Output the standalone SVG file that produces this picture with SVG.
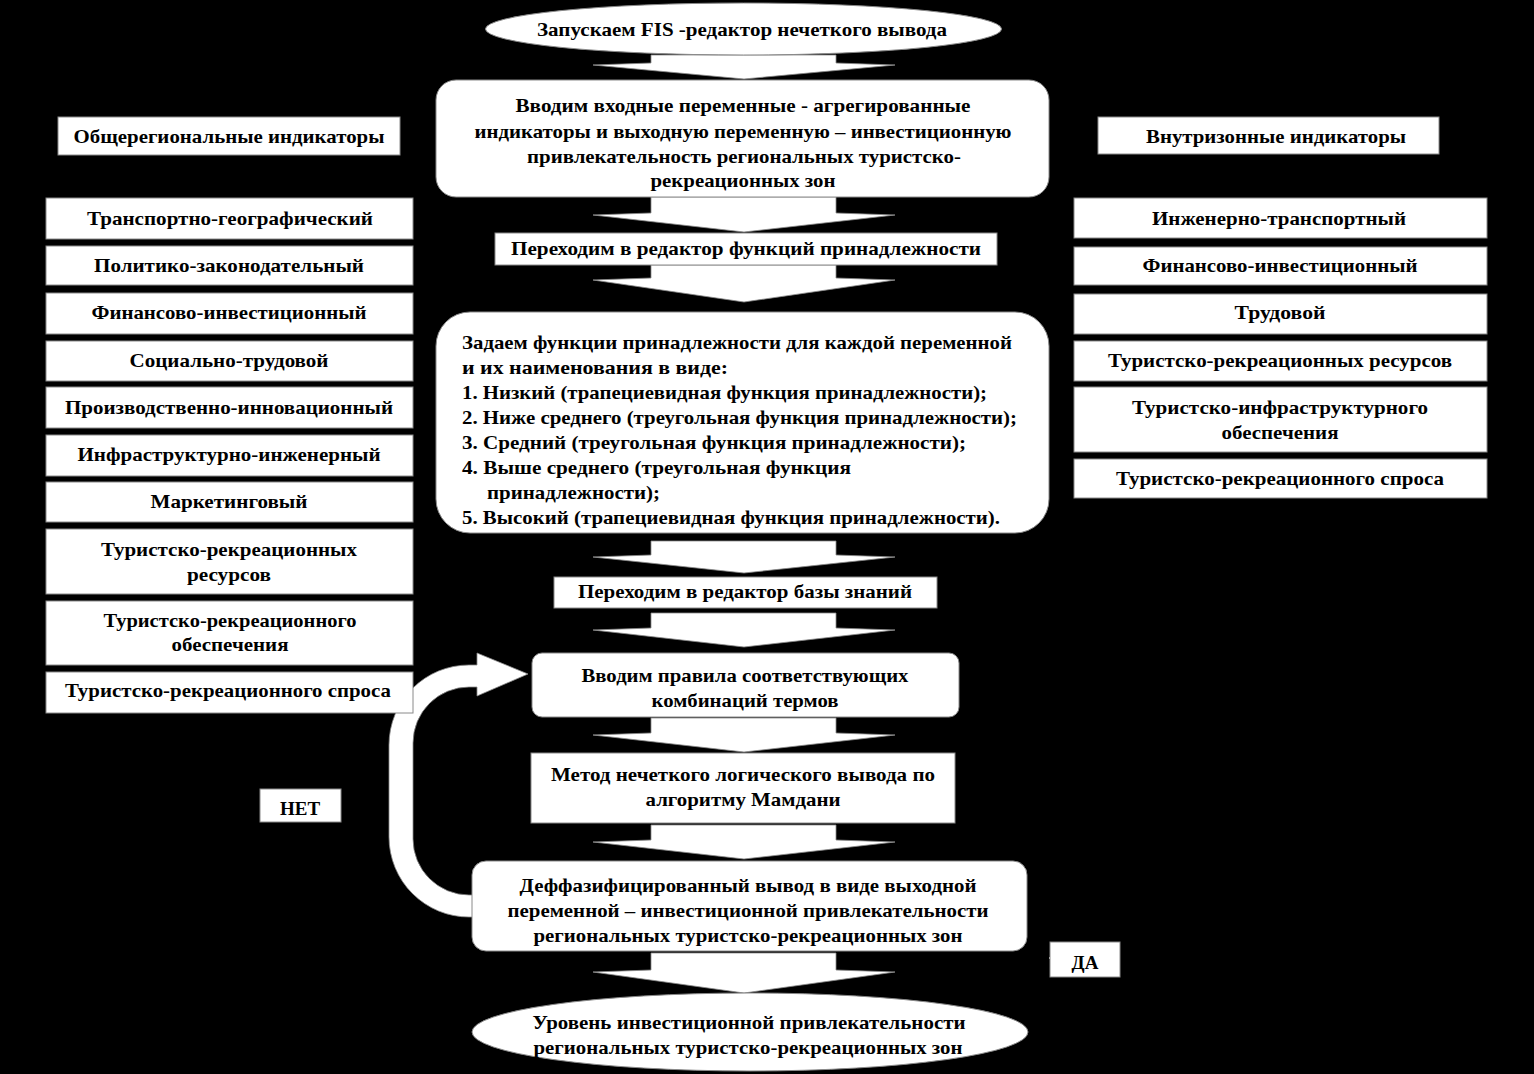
<svg xmlns="http://www.w3.org/2000/svg" width="1534" height="1074" viewBox="0 0 1534 1074">
<style>
.bg{fill:#000}
.box{fill:#fff;stroke:#8a8a8a;stroke-width:1}
.arr{fill:#fff;stroke:#8a8a8a;stroke-width:0.8}
text{font-family:"Liberation Serif","Times New Roman",serif;font-weight:bold;font-size:19px;fill:#000}
.c{text-anchor:middle}
</style>
<rect class="bg" x="0" y="0" width="1534" height="1074"/>

<g id="connectors">
<path class="arr" d="M651 55 H836 V63 L895 65 L744 79 L593 65 L651 63 Z"/>
<path class="arr" d="M651 197 H836 V213 L895 215 L744 232 L593 215 L651 213 Z"/>
<path class="arr" d="M651 265 H836 V278 L895 280 L744 302 L593 280 L651 278 Z"/>
<path class="arr" d="M651 541 H836 V555 L895 557 L744 573 L593 557 L651 555 Z"/>
<path class="arr" d="M651 613 H836 V628 L895 630 L744 647 L593 630 L651 628 Z"/>
<path class="arr" d="M651 718 H836 V733 L895 735 L744 752 L593 735 L651 733 Z"/>
<path class="arr" d="M651 825 H836 V840 L895 842 L744 859 L593 842 L651 840 Z"/>
<path class="arr" d="M651 953 H836 V970 L895 972 L744 993 L593 972 L651 970 Z"/>
<path class="arr" d="M480 917 H469 A80 80 0 0 1 389 837 V745 A80 80 0 0 1 469 665 H477 V653 L528 674 L477 696 V687 H469 A56 56 0 0 0 413 743 V839 A56 56 0 0 0 469 895 H480 Z"/>
<line x1="1049" y1="958" x2="1053" y2="958" stroke="#fff" stroke-width="1.5"/>
</g>

<g id="n-start">
<ellipse class="box" cx="743.5" cy="29" rx="258" ry="26"/>
<text class="c" x="742" y="36" textLength="410" lengthAdjust="spacingAndGlyphs">Запускаем FIS -редактор нечеткого вывода</text>
</g>

<g id="n-input">
<rect class="box" x="436" y="80" width="613" height="117" rx="20"/>
<text class="c" x="743" y="112" textLength="455" lengthAdjust="spacingAndGlyphs">Вводим входные  переменные - агрегированные</text>
<text class="c" x="743" y="138" textLength="537" lengthAdjust="spacingAndGlyphs">индикаторы и выходную переменную – инвестиционную</text>
<text class="c" x="744" y="163" textLength="434" lengthAdjust="spacingAndGlyphs">привлекательность региональных туристско-</text>
<text class="c" x="743" y="187" textLength="185" lengthAdjust="spacingAndGlyphs">рекреационных зон</text>
</g>

<g id="n-mf-editor">
<rect class="box" x="495" y="233" width="502" height="32"/>
<text class="c" x="746" y="255" textLength="470" lengthAdjust="spacingAndGlyphs">Переходим в  редактор функций принадлежности</text>
</g>

<g id="n-mf">
<rect class="box" x="436" y="312" width="613" height="221" rx="34"/>
<text x="462" y="349" textLength="550" lengthAdjust="spacingAndGlyphs">Задаем функции принадлежности для каждой переменной</text>
<text x="462" y="374" textLength="266" lengthAdjust="spacingAndGlyphs">и их наименования в виде:</text>
<text x="462" y="399" textLength="525" lengthAdjust="spacingAndGlyphs">1. Низкий (трапециевидная функция принадлежности);</text>
<text x="462" y="424" textLength="555" lengthAdjust="spacingAndGlyphs">2. Ниже среднего (треугольная функция принадлежности);</text>
<text x="462" y="449" textLength="504" lengthAdjust="spacingAndGlyphs">3. Средний  (треугольная функция принадлежности);</text>
<text x="462" y="474" textLength="389" lengthAdjust="spacingAndGlyphs">4. Выше среднего  (треугольная функция</text>
<text x="487" y="499" textLength="173" lengthAdjust="spacingAndGlyphs">принадлежности);</text>
<text x="462" y="524" textLength="538" lengthAdjust="spacingAndGlyphs">5. Высокий (трапециевидная функция принадлежности).</text>
</g>

<g id="n-kb-editor">
<rect class="box" x="554" y="577" width="383" height="31"/>
<text class="c" x="745" y="598" textLength="334" lengthAdjust="spacingAndGlyphs">Переходим в редактор базы знаний</text>
</g>

<g id="n-rules">
<rect class="box" x="532" y="653" width="427" height="64" rx="10"/>
<text class="c" x="745" y="682" textLength="327" lengthAdjust="spacingAndGlyphs">Вводим правила соответствующих</text>
<text class="c" x="745" y="707" textLength="187" lengthAdjust="spacingAndGlyphs">комбинаций термов</text>
</g>

<g id="n-mamdani">
<rect class="box" x="531" y="753" width="424" height="70"/>
<text class="c" x="743" y="781" textLength="384" lengthAdjust="spacingAndGlyphs">Метод нечеткого логического вывода по</text>
<text class="c" x="743" y="806" textLength="195" lengthAdjust="spacingAndGlyphs">алгоритму Мамдани</text>
</g>

<g id="n-defuzz">
<rect class="box" x="472" y="861" width="555" height="90" rx="14"/>
<text class="c" x="748" y="892" textLength="457" lengthAdjust="spacingAndGlyphs">Деффазифицированный вывод в виде выходной</text>
<text class="c" x="748" y="917" textLength="481" lengthAdjust="spacingAndGlyphs">переменной – инвестиционной привлекательности</text>
<text class="c" x="748" y="942" textLength="429" lengthAdjust="spacingAndGlyphs">региональных туристско-рекреационных зон</text>
</g>

<g id="n-result">
<ellipse class="box" cx="750" cy="1032" rx="278" ry="39"/>
<text class="c" x="749" y="1029" textLength="433" lengthAdjust="spacingAndGlyphs">Уровень инвестиционной привлекательности</text>
<text class="c" x="748" y="1054" textLength="429" lengthAdjust="spacingAndGlyphs">региональных туристско-рекреационных зон</text>
</g>

<g id="n-no">
<rect class="box" x="260" y="789" width="81" height="33"/>
<text class="c" x="300" y="815">НЕТ</text>
</g>

<g id="n-yes">
<rect class="box" x="1050" y="942" width="70" height="35"/>
<text class="c" x="1085" y="969">ДА</text>
</g>

<g id="n-left-title">
<rect class="box" x="58" y="117" width="342" height="38"/>
<text class="c" x="229" y="143" textLength="311" lengthAdjust="spacingAndGlyphs">Общерегиональные индикаторы</text>
</g>
<g id="n-l1">
<rect class="box" x="46" y="198" width="367" height="41"/>
<text class="c" x="230" y="225" textLength="286" lengthAdjust="spacingAndGlyphs">Транспортно-географический</text>
</g>
<g id="n-l2">
<rect class="box" x="46" y="246" width="367" height="39"/>
<text class="c" x="229" y="272" textLength="270" lengthAdjust="spacingAndGlyphs">Политико-законодательный</text>
</g>
<g id="n-l3">
<rect class="box" x="46" y="293" width="367" height="41"/>
<text class="c" x="229" y="319" textLength="275" lengthAdjust="spacingAndGlyphs">Финансово-инвестиционный</text>
</g>
<g id="n-l4">
<rect class="box" x="46" y="341" width="367" height="40"/>
<text class="c" x="229" y="367" textLength="199" lengthAdjust="spacingAndGlyphs">Социально-трудовой</text>
</g>
<g id="n-l5">
<rect class="box" x="46" y="387" width="367" height="41"/>
<text class="c" x="229" y="414" textLength="328" lengthAdjust="spacingAndGlyphs">Производственно-инновационный</text>
</g>
<g id="n-l6">
<rect class="box" x="46" y="435" width="367" height="41"/>
<text class="c" x="229" y="461" textLength="303" lengthAdjust="spacingAndGlyphs">Инфраструктурно-инженерный</text>
</g>
<g id="n-l7">
<rect class="box" x="46" y="482" width="367" height="40"/>
<text class="c" x="229" y="508" textLength="157" lengthAdjust="spacingAndGlyphs">Маркетинговый</text>
</g>
<g id="n-l8">
<rect class="box" x="46" y="529" width="367" height="65"/>
<text class="c" x="229" y="556" textLength="256" lengthAdjust="spacingAndGlyphs">Туристско-рекреационных</text>
<text class="c" x="229" y="581" textLength="84" lengthAdjust="spacingAndGlyphs">ресурсов</text>
</g>
<g id="n-l9">
<rect class="box" x="46" y="601" width="367" height="64"/>
<text class="c" x="230" y="627" textLength="253" lengthAdjust="spacingAndGlyphs">Туристско-рекреационного</text>
<text class="c" x="230" y="651" textLength="117" lengthAdjust="spacingAndGlyphs">обеспечения</text>
</g>
<g id="n-l10">
<rect class="box" x="46" y="672" width="367" height="41"/>
<text class="c" x="228" y="697" textLength="326" lengthAdjust="spacingAndGlyphs">Туристско-рекреационного спроса</text>
</g>

<g id="n-right-title">
<rect class="box" x="1098" y="117" width="341" height="37"/>
<text class="c" x="1276" y="143" textLength="260" lengthAdjust="spacingAndGlyphs">Внутризонные индикаторы</text>
</g>
<g id="n-r1">
<rect class="box" x="1074" y="198" width="413" height="40"/>
<text class="c" x="1279" y="225" textLength="254" lengthAdjust="spacingAndGlyphs">Инженерно-транспортный</text>
</g>
<g id="n-r2">
<rect class="box" x="1074" y="247" width="413" height="38"/>
<text class="c" x="1280" y="272" textLength="275" lengthAdjust="spacingAndGlyphs">Финансово-инвестиционный</text>
</g>
<g id="n-r3">
<rect class="box" x="1074" y="294" width="413" height="40"/>
<text class="c" x="1280" y="319" textLength="91" lengthAdjust="spacingAndGlyphs">Трудовой</text>
</g>
<g id="n-r4">
<rect class="box" x="1074" y="341" width="413" height="40"/>
<text class="c" x="1280" y="367" textLength="344" lengthAdjust="spacingAndGlyphs">Туристско-рекреационных ресурсов</text>
</g>
<g id="n-r5">
<rect class="box" x="1074" y="387" width="413" height="65"/>
<text class="c" x="1280" y="414" textLength="296" lengthAdjust="spacingAndGlyphs">Туристско-инфраструктурного</text>
<text class="c" x="1280" y="439" textLength="117" lengthAdjust="spacingAndGlyphs">обеспечения</text>
</g>
<g id="n-r6">
<rect class="box" x="1074" y="459" width="413" height="39"/>
<text class="c" x="1280" y="485" textLength="328" lengthAdjust="spacingAndGlyphs">Туристско-рекреационного спроса</text>
</g>
</svg>
